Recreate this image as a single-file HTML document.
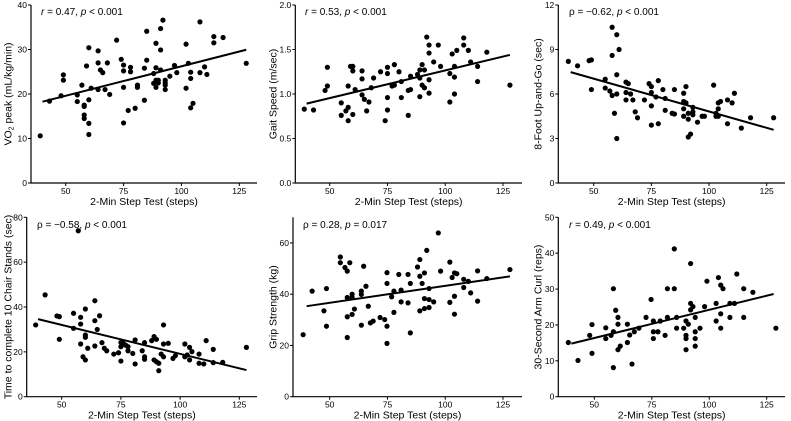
<!DOCTYPE html>
<html><head><meta charset="utf-8"><style>
html,body{margin:0;padding:0;background:#fff;}
svg{display:block;font-family:"Liberation Sans",Arial,sans-serif;}
</style></head><body>
<svg id="c" width="791" height="421" viewBox="0 0 791 421"></svg>
<script>
const xTicks=[50,75,100,125];
const p1x=[39,43,48,49,49,55,55,57,58,58,58,58,59,60,60,60,60,61,64,64,64,65,66,67,68,69,72,74,75,75,75,75,77,78,78,80,81,81,84,84,85,85,88,88,89,89,89,89,90,90,91,91,91,92,93,93,93,93,95,97,98,102,102,103,104,104,104,105,108,108,110,111,114,114,118,128];
const p1y=[10.6,18.4,19.6,24.3,23.1,19.8,18.3,22,17.5,17.2,15.3,14.5,26.3,30.4,18.7,13.4,10.9,21.3,29.7,27,21,25.4,24.8,21,27,19.9,32.1,27.8,26.5,25.2,21.5,13.5,16.3,26,25,16.8,22,21.5,25.8,18.6,34.1,27.6,24.6,22.4,31.4,25.9,23.1,21.5,22.5,23.1,34.7,29.9,25.4,36.6,23.1,22.5,22,21,24,26.4,24.8,31.2,21.3,26.9,24.9,23.5,16.9,17.9,36.2,24.8,26.1,24.4,32.9,31.5,32.7,26.9];
const p2x=[39,43,48,49,49,55,55,57,58,58,58,59,60,60,60,61,64,64,64,65,66,67,68,69,72,74,75,75,75,75,77,78,78,80,81,81,84,84,85,85,88,89,89,89,90,90,91,91,92,93,93,93,93,95,97,98,102,102,103,104,104,104,105,108,108,110,111,114,114,118,128];
const p2y=[0.83,0.82,1.04,1.09,1.3,0.9,0.76,0.81,0.85,0.70,1.09,1.31,1.31,1.26,0.77,1.05,1.26,1.17,0.99,0.94,0.81,0.91,1.07,1.18,1.25,0.70,1.3,1.23,0.96,0.82,1.09,1.33,1.1,1.25,0.96,1.14,1.04,0.76,1.05,1.2,1.22,1.27,0.97,1.18,1.33,1.1,1.27,1.07,1.64,1.55,1.46,1.16,1.01,1.36,1.55,1.31,1.23,0.91,1.45,1.31,1.19,1.0,1.49,1.63,1.55,1.49,1.36,1.31,1.14,1.47,1.1];
const p3x=[39,43,48,49,49,55,55,57,58,58,58,59,60,60,60,60,61,64,64,64,65,66,67,68,69,72,74,75,75,75,75,77,78,78,80,81,81,84,85,85,89,89,89,89,90,90,91,91,91,92,93,93,93,95,97,98,102,103,103,104,104,104,105,108,108,110,111,114,118,128];
const p3y=[8.2,7.9,8.25,8.3,6.3,7.0,6.4,6.2,10.5,8.6,5.9,4.7,10,7.3,6.0,3.0,9.0,6.8,6.1,5.6,6.7,6.0,5.6,4.8,4.4,5.6,6.7,6.5,6.1,5.2,3.9,5.8,6.9,4.0,6.3,5.7,4.9,4.7,6.3,4.65,5.5,6.05,5.0,4.5,6.5,5.4,4.7,4.3,3.1,3.3,5.1,4.6,4.8,4.1,4.5,4.5,6.6,4.7,4.5,5.4,5.0,4.5,5.5,5.6,4.0,5.4,6.05,3.7,4.4,4.4];
const p4x=[39,43,48,49,49,55,55,57,58,58,58,59,60,60,60,60,61,64,64,64,65,66,67,68,69,72,74,75,75,75,76,77,78,78,80,81,81,84,85,85,85,88,89,89,90,90,91,91,92,93,93,93,95,97,98,102,102,103,104,104,105,108,108,110,111,114,114,118,128];
const p4y=[32,45.4,36,35.7,25.6,37.2,30.5,74,35.4,32.4,23.5,17.8,39.1,27.5,26.5,16.4,21.6,42.8,33.9,22.6,30,36.1,24.1,21.6,20.5,19,19.6,24.2,22.3,15.9,23.8,23,20.5,22.3,19.3,25.3,14.6,20.5,24.1,17.8,16.7,25,26.8,16.4,25.6,15.6,14.9,11.6,19,32,23.5,17.8,23.8,17.1,18.3,23.5,17.8,18.6,22,16.4,20.1,19,14.9,14.6,25,21.1,15.2,15.3,22];
const p5x=[38.5,42.4,47.5,48.6,48.6,54.6,54.6,56.6,57.6,57.6,57.6,57.6,58.7,59.7,59.7,59.7,60.7,63.7,63.7,63.7,64.7,65.7,66.7,67.6,68.8,71.8,73.8,74.8,74.8,74.8,74.8,76.8,77.8,77.8,79.9,80.9,80.9,83.9,83.9,84.9,84.9,88,89,89,89,90,91,91,91,92,93,93,93,95,97,98,102,102,103,104,104,104,105,108,108,110,111,114,114,118,128];
const p5y=[24.2,41.2,33.5,42.2,27.5,54.5,52.3,50.4,49,38.7,31.2,23.1,52.3,40,38.7,32.1,34.2,41.2,39.9,27.9,50.9,43.1,35.3,28.8,29.5,30.9,30.1,48.4,44.2,27.5,20.8,39,41.2,32.9,47.7,41.6,37,47.7,36.6,44.2,24.9,50.6,53.5,47,33.5,44.2,48.3,38.3,34.4,57.1,42.2,37.9,34.8,37,63.9,49,52.5,36.8,46.5,48.3,39.2,32.2,48,45.8,42.6,45,40.5,49.1,37.3,46.1,49.6];
const p6x=[38.7,42.9,48,49,49,55,55,57.3,58.3,58.3,58.3,59.3,60.3,60.3,60.3,61.3,64.4,64.4,65.4,66.4,67.4,69.4,72.5,74.7,75.7,75.7,75.7,77.7,78.7,80.8,81.8,81.8,84.8,84.8,85.8,85.8,88.9,89.9,89.9,89.9,89.9,90.9,91.9,91.9,91.9,92.9,93.9,93.9,93.9,93.9,96,98,99,103,103,104,105,105,105,106,109,109,111,112,115,115,119,129];
const p6y=[15.1,10.1,17.1,20.1,12.1,19.2,16.2,17.1,8.1,30.1,18.1,24.1,22.1,20.2,13.1,14.1,20.2,15.1,17.2,9.1,18.1,19.1,22.1,27.1,21.1,18.1,16.2,18.1,21.1,17.1,30.1,22.1,41.2,30.1,22.1,19.1,19.1,21.1,17.1,16.2,13.1,20.2,37.1,26,24.2,25.1,22.1,18.1,16.2,14.1,19.1,25.1,32.2,21.1,26,33.2,31.1,23.1,19.1,30.1,26,22.1,26,34.2,30.1,22.1,29.1,19.1];
const yTicks1=[0,10,20,30,40], yTicks2=[0,0.5,1.0,1.5,2.0], yTicks3=[0,3,6,9,12];
const yTicks4=[0,20,40,60,80], yTicks5=[0,20,40,60], yTicks6=[0,10,20,30,40,50];
const yLabels2=["0.0","0.5","1.0","1.5","2.0"];

const panels=[
 {name:'vo2-peak',xs:p1x,ys:p1y,ax:31,x50:65.7,x125:239.3,top:5,zero:183,ymax:40,yt:yTicks1,xEnd:257,ytx:8,ann:[['r',1],[' = 0.47, ',0],['p',1],[' < 0.001',0]],annx:41,anny:15,lbl:'vo2'},
 {name:'gait-speed',xs:p2x,ys:p2y,ax:295.3,x50:329.7,x125:503,top:5,zero:183,ymax:2,yt:yTicks2,ylab:yLabels2,xEnd:522,ytx:273,ann:[['r',1],[' = 0.53, ',0],['p',1],[' < 0.001',0]],annx:305,anny:15,lbl:'Gait Speed (m/sec)'},
 {name:'up-and-go',xs:p3x,ys:p3y,ax:558.3,x50:593.7,x125:766.7,top:5,zero:183,ymax:12,yt:yTicks3,xEnd:785,ytx:538,ann:[['ρ = −0.62, ',0],['p',1],[' < 0.001',0]],annx:569,anny:15,lbl:'8-Foot Up-and-Go (sec)'},
 {name:'chair-stands',xs:p4x,ys:p4y,ax:26.7,x50:61.7,x125:239.3,top:217.3,zero:396.7,ymax:80,yt:yTicks4,xEnd:257,ytx:8,ann:[['ρ = −0.58, ',0],['p',1],[' < 0.001',0]],annx:37,anny:228,lbl:'Time to complete 10 Chair Stands (sec)'},
 {name:'grip-strength',xs:p5x,ys:p5y,ax:293,x50:329.7,x125:503,top:217.3,zero:396.7,ymax:70,yt:yTicks5,xEnd:522,ytx:273,ann:[['ρ = 0.28, ',0],['p',1],[' = 0.017',0]],annx:303,anny:228,lbl:'Grip Strength (kg)'},
 {name:'arm-curl',xs:p6x,ys:p6y,ax:558.3,x50:594.3,x125:766.7,top:217.3,zero:396.7,ymax:50,yt:yTicks6,xEnd:785,ytx:538,ann:[['r',1],[' = 0.49, ',0],['p',1],[' < 0.001',0]],annx:569,anny:228,lbl:'30-Second Arm Curl (reps)'}
];
const svg=document.getElementById('c');
const NS='http://www.w3.org/2000/svg';
function mk(t,a,parent){const e=document.createElementNS(NS,t);for(const k in a)e.setAttribute(k,a[k]);(parent||svg).appendChild(e);return e;}
panels.forEach(p=>{
 const g=mk('g',{});
 
 
 const sx=v=>p.x50+(v-50)*(p.x125-p.x50)/75;
 const sy=v=>p.zero-(v/p.ymax)*(p.zero-p.top);
 const axis=mk('path',{d:`M${p.ax} ${p.top}V${p.zero}H${p.xEnd}`,stroke:'#000','stroke-width':1.2,fill:'none'},g);
 
 
 xTicks.forEach(t=>{
  mk('line',{x1:sx(t),x2:sx(t),y1:p.zero,y2:p.zero+3,stroke:'#000','stroke-width':1},g);
  const tx=mk('text',{x:sx(t),y:p.zero+11,'font-size':8.5,'text-anchor':'middle'},g);tx.textContent=t;
  
  
 });
 p.yt.forEach((t,i)=>{
  mk('line',{x1:p.ax-3,x2:p.ax,y1:sy(t),y2:sy(t),stroke:'#000','stroke-width':1},g);
  const tx=mk('text',{x:p.ax-4,y:sy(t)+3,'font-size':8.5,'text-anchor':'end'},g);tx.textContent=p.ylab?p.ylab[i]:t;
  
  
 });
 const xt=mk('text',{x:(p.ax+p.xEnd)/2,y:p.zero+22,'font-size':10.5,'text-anchor':'middle'},g);
 xt.textContent='2-Min Step Test (steps)';
 
 
 const cy=(p.top+p.zero)/2;
 const yt=mk('text',{x:p.ytx,y:cy,'font-size':10.5,'text-anchor':'middle',transform:`rotate(-90 ${p.ytx} ${cy})`,dy:3.5},g);
 if(p.lbl==='vo2'){yt.innerHTML='VO<tspan font-size="7" dy="2">2</tspan><tspan dy="-2"> peak  (mL/kg/min)</tspan>';}
 else yt.textContent=p.lbl;
 
 
 const an=mk('text',{x:p.annx,y:p.anny,'font-size':10},g);
 p.ann.forEach(s=>{const ts=mk('tspan',s[1]?{'font-style':'italic'}:{},an);ts.textContent=s[0];});
 
 
 const n=p.xs.length;let mx=0,my=0;for(let i=0;i<n;i++){mx+=p.xs[i];my+=p.ys[i];}mx/=n;my/=n;
 let sxy=0,sxx=0;for(let i=0;i<n;i++){sxy+=(p.xs[i]-mx)*(p.ys[i]-my);sxx+=(p.xs[i]-mx)**2;}
 const b=sxy/sxx,a=my-b*mx;
 p.xs.forEach((v,i)=>{
  const c=mk('circle',{cx:sx(v),cy:sy(p.ys[i]),r:2.6,fill:'#000'},g);
  
  
 });
 const x0=40,x1=128;
 const ln=mk('line',{x1:sx(x0),y1:sy(a+b*x0),x2:sx(x1),y2:sy(a+b*x1),stroke:'#000','stroke-width':2},g);
 
 
});
</script>
</body></html>
